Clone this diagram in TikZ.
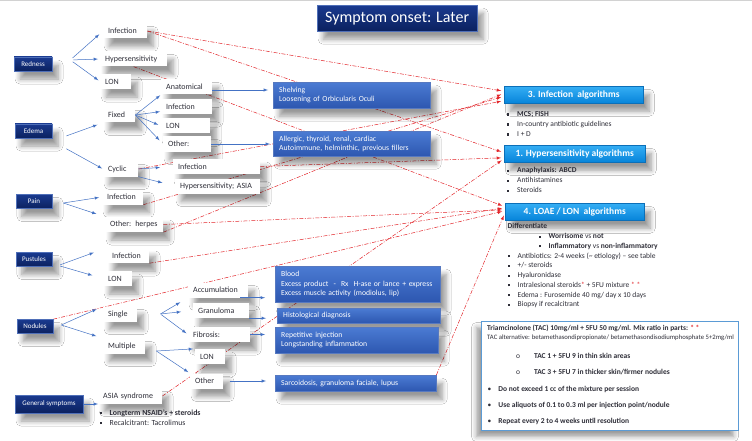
\documentclass[tikz,border=0pt]{standalone}
\usepackage{fontspec}
\setmainfont{Carlito}
\usetikzlibrary{shapes, arrows, positioning, calc, backgrounds, shadows.blur}

\definecolor{navytop}{HTML}{1A3A8F}
\definecolor{navybot}{HTML}{0B215F}
\definecolor{navyedge}{HTML}{4F6FB8}
\definecolor{infotop}{HTML}{4B7BD3}
\definecolor{infobot}{HTML}{2D57B0}
\definecolor{algtop}{HTML}{35AEF4}
\definecolor{algbot}{HTML}{0684DA}
\definecolor{algedge}{HTML}{0B6FB8}
\definecolor{ink}{HTML}{2E2E38}
\definecolor{linkblue}{HTML}{4472C4}
\definecolor{linkred}{HTML}{E3262B}
\definecolor{tacedge}{HTML}{5B9BD5}

\newcommand{\fsz}[2]{\fontsize{#1}{#2}\selectfont}
\newcommand{\sqb}{\makebox[10pt][l]{\rule[0.9pt]{2.2pt}{2.2pt}}}

\begin{document}
\begin{tikzpicture}[x=1pt, y=-1pt,
		softshadow/.style={blur shadow={shadow xshift=6pt, shadow yshift=-8pt, shadow blur radius=5pt, shadow opacity=40, shadow blur steps=6}},
		cat/.style={softshadow, draw=navyedge, line width=0.6pt, top color=navytop, bottom color=navybot, text=white, font=\fsz{7}{8}, minimum height=14pt, inner sep=1pt},
		leaf/.style={softshadow, fill=white, text=ink, font=\fsz{8}{9.6}, minimum height=15pt, inner xsep=5pt, inner ysep=0pt, anchor=west, align=left, text width=#1},
		leaf/.default=30pt,
		info/.style={softshadow, draw=infobot!80!white, top color=infotop, bottom color=infobot, text=white, font=\fsz{7.7}{9.5}, anchor=north west, align=left, inner xsep=6pt, inner ysep=0pt},
		alg/.style={softshadow, draw=algedge, line width=0.5pt, top color=algtop, bottom color=algbot, text=white, font=\bfseries\fsz{9.5}{11}, anchor=north west, minimum height=17pt, inner sep=0pt},
		blist/.style={text=ink, font=\fsz{7.5}{10}, anchor=north west, align=left, inner sep=0pt},
		tact/.style={text=ink, font=\fsz{7.5}{9}, anchor=west, inner sep=0pt},
		barrow/.style={-latex, draw=linkblue, line width=0.5pt},
		rarrow/.style={-latex, draw=linkred, line width=0.5pt, dash pattern=on 4pt off 1.5pt on 1pt off 1.5pt, shorten >=3pt}
	]
	\useasboundingbox (0,0) rectangle (752,441);
	\fill[gray!35] (0,0) rectangle (752,1.5);

	\node[softshadow, draw=navyedge, top color=navytop, bottom color=navybot, text=white, font=\fsz{16}{18}, anchor=north west, minimum width=160pt, minimum height=26pt] (title) at (317,5) {Symptom onset: Later};

	% symptoms
	\node[cat, minimum width=38pt] (redness) at (33,64) {Redness};
	\node[cat, minimum width=37pt] (edema) at (33.5,131) {Edema};
	\node[cat, minimum width=36pt] (pain) at (34,201.5) {Pain};
	\node[cat, minimum width=36pt] (pustules) at (34,259.5) {Pustules};
	\node[cat, minimum width=36pt] (nodules) at (35,326.5) {Nodules};
	\node[cat, minimum width=68pt, minimum height=18pt] (general) at (49,404) {General symptoms};

	\node[leaf=34pt] (rinf) at (103,31) {Infection};
	\node[leaf=57pt] (rhyp) at (100,59) {Hypersensitivity};
	\node[leaf=21pt] (rlon) at (100,81.5) {LON};
	\node[leaf=22pt] (efix) at (103,115) {Fixed};
	\node[leaf=41pt] (fana) at (161,87) {Anatomical};
	\node[leaf=41pt] (finf) at (161,106.5) {Infection};
	\node[leaf=39pt] (flon) at (161,126) {LON};
	\node[leaf=38pt] (foth) at (163,144) {Other:};
	\node[leaf=25pt] (ecyc) at (103,169) {Cyclic};
	\node[leaf=77pt] (cinf) at (173,166.5) {Infection};
	\node[leaf=75pt] (chyp) at (175,186) {Hypersensitivity; ASIA};
	\node[leaf=31pt] (pinf) at (102,197) {Infection};
	\node[leaf=48pt] (poth) at (105,224.5) {Other: herpes};
	\node[leaf=32pt] (uinf) at (107,255.5) {Infection};
	\node[leaf=19pt] (ulon) at (103,278.5) {LON};
	\node[leaf=24pt] (nsin) at (103,314) {Single};
	\node[leaf=32pt] (nmul) at (103,346) {Multiple};
	\node[leaf=50pt] (sacc) at (188,290) {Accumulation};
	\node[leaf=46pt] (sgra) at (193,310.5) {Granuloma};
	\node[leaf=52pt] (sfib) at (188,334.5) {Fibrosis:};
	\node[leaf=20pt] (mlon) at (195,356.5) {LON};
	\node[leaf=23pt] (moth) at (190,381) {Other};
	\node[leaf=54pt] (gasia) at (98,396) {ASIA syndrome};
	\node[blist, font=\fsz{7.8}{10}] (glist) at (99.5,409.2) {\sqb\textbf{Longterm NSAID’s + steroids}\\\sqb Recalcitrant: Tacrolimus};

	% causes
	\node[info, text width=145pt, minimum height=26pt] (shel) at (273,82) {Shelving\\Loosening of Orbicularis Oculi};
	\node[info, text width=145pt, minimum height=25pt] (allg) at (273,131) {Allergic, thyroid, renal, cardiac\\Autoimmune, helminthic, previous fillers};
	\node[info, text width=157pt, inner xsep=4pt, minimum height=36pt] (blood) at (275,266) {\hspace*{2pt}Blood\\\hspace*{2pt}\mbox{Excess product \ - \ Rx \ H-ase or lance + express}\\\hspace*{2pt}Excess muscle activity (modiolus, lip)};
	\node[info, text width=151pt, minimum height=15pt] (hist) at (277,308) {Histological diagnosis};
	\node[info, text width=151pt, minimum height=26pt] (rep) at (275,327) {Repetitive injection\\Longstanding inflammation};
	\node[info, text width=149pt, minimum height=16pt] (sarc) at (275,375) {Sarcoidosis, granuloma faciale, lupus};

	% algorithms
	\node[alg, minimum width=139pt] (alg3) at (504,86) {3. Infection \ algorithms};
	\node[blist] (l3) at (507,111.3) {\sqb\textbf{MCS; FISH}\\\sqb In-country antibiotic guidelines\\\sqb I + D};
	\node[alg, minimum width=141pt] (alg1) at (504,145) {1. Hypersensitivity algorithms};
	\node[blist] (l1) at (507,167.4) {\sqb\textbf{Anaphylaxis: ABCD}\\\sqb Antihistamines\\\sqb Steroids};
	\node[alg, minimum width=139pt] (alg4) at (505,203) {4. LOAE / LON \ algorithms};
	\node[blist, font=\fsz{7.5}{9.75}] (l4) at (507.5,223.4) {\textbf{Differentiate}\\
		\hspace*{31pt}\sqb\textbf{Worrisome} vs \textbf{not}\\
		\hspace*{31pt}\sqb\textbf{Inflammatory} vs \textbf{non-inflammatory}\\
		\sqb Antibiotics: 2-4 weeks (\textasciitilde{} etiology) – see table\\
		\sqb +/- steroids\\
		\sqb Hyaluronidase\\
		\sqb Intralesional steroids{\color{linkred}*} + 5FU mixture {\color{linkred}* *}\\
		\sqb Edema : Furosemide 40 mg/ day x 10 days\\
		\sqb Biopsy if recalcitrant};

	\node[draw=tacedge, line width=1pt, fill=white, anchor=north west, minimum width=257pt, minimum height=109pt, blur shadow={shadow xshift=-5pt, shadow yshift=-6pt, shadow blur radius=5pt, shadow opacity=40}] (tac) at (481,321) {};
	\node[tact, font=\bfseries\fsz{7.4}{9}] (tac1) at (487,328.5) {Triamcinolone (TAC) 10mg/ml + 5FU 50 mg/ml. Mix ratio in parts: {\color{linkred}* *}};
	\node[tact, font=\fsz{6.7}{7.5}] (tac2) at (487,337.5) {TAC alternative: betamethasondipropionate/ betamethasondisodiumphosphate 5+2mg/ml};
	\node[tact] (tac3) at (516,356) {o\hspace{14pt}\textbf{TAC 1 + 5FU 9 in thin skin areas}};
	\node[tact] (tac4) at (516,372) {o\hspace{14pt}\textbf{TAC 3 + 5FU 7 in thicker skin/firmer nodules}};
	\node[tact] (tac5) at (487.5,389) {•\hspace{7pt}\textbf{Do not exceed 1 cc of the mixture per session}};
	\node[tact] (tac6) at (487.5,405.5) {•\hspace{7pt}\textbf{Use aliquots of 0.1 to 0.3 ml per injection point/nodule}};
	\node[tact] (tac7) at (487.5,421) {•\hspace{7pt}\textbf{Repeat every 2 to 4 weeks until resolution}};

	% links to the algorithms
	\begin{scope}[on background layer]
		\fill[white] (0,0) rectangle (752,441);
		\draw[rarrow] (rinf.east) -- ([yshift=3.5pt]alg3.west);
		\draw[rarrow] (rinf.east) -- ([yshift=1pt]alg1.west);
		\draw[rarrow] (rhyp.south) -- ([yshift=5pt]alg4.west);
		\draw[rarrow] (ecyc.east) -- ([yshift=-6pt]alg3.west);
		\draw[rarrow] (pinf.south east) -- ([yshift=-1.5pt]alg3.west);
		\draw[rarrow] (poth.south east) -- ([yshift=1.5pt]alg3.west);
		\draw[rarrow] (cinf.east) -- ([yshift=-4pt]alg1.west);
		\draw[rarrow] (poth.east) -- ([yshift=2pt]alg4.west);
		\draw[rarrow] (uinf.south east) -- ([yshift=4pt]alg4.west);
		\draw[rarrow] (nodules.north east) -- ([yshift=1pt]alg4.west);
		\draw[rarrow] (gasia.east) -- ([yshift=-5pt]alg1.west);
		\draw[rarrow] (sarc.north east) -- ([yshift=-1pt]alg4.west);
	\end{scope}

	% tree arrows
	\coordinate (rfan) at ([xshift=18pt,yshift=4pt]redness.east);
	\draw[barrow, shorten <=3pt, shorten >=5pt] (rfan) -- (rinf.west);
	\draw[barrow, shorten <=3pt, shorten >=2pt] (rfan) -- (rhyp.west);
	\draw[barrow, shorten <=3pt, shorten >=2pt] (rfan) -- (rlon.west);

	\coordinate (efan) at ([yshift=-10pt]edema.east);
	\draw[barrow, shorten <=15pt, shorten >=6pt] (efan) -- (efix.south west);
	\draw[barrow, shorten <=16pt, shorten >=1pt] (efan) -- (ecyc.west);
	\draw[barrow, shorten >=1pt] (efix.east) -- (fana.south west);
	\draw[barrow, shorten >=1pt] (efix.east) -- ([yshift=-5pt]finf.west);
	\draw[barrow, shorten >=3pt] (efix.east) -- (flon.west);
	\draw[barrow, shorten >=5pt] (efix.east) -- (foth.west);
	\draw[barrow, shorten >=13pt] (ecyc.east) -- (cinf.west);
	\draw[barrow, shorten >=13pt] (ecyc.south east) -- (chyp.west);

	\coordinate (pfan) at ([xshift=11pt,yshift=-1.5pt]pain.east);
	\draw[barrow, shorten >=3pt] (pfan) -- (pinf.west);
	\draw[barrow, shorten >=9pt] (pfan) -- (poth.north west);

	\coordinate (ufan) at ([xshift=6pt,yshift=-6pt]pustules.east);
	\draw[barrow, shorten <=2pt, shorten >=14pt] (ufan) -- (uinf.north west);
	\draw[barrow, shorten <=2pt, shorten >=11pt] (ufan) -- (ulon.west);

	\coordinate (nfan) at ([xshift=8pt,yshift=1.5pt]nodules.east);
	\draw[barrow, shorten >=7pt] (nfan) -- (nsin.north west);
	\draw[barrow, shorten >=7pt] (nfan) -- (nmul.north west);

	\coordinate (sfan) at ([xshift=23pt]nsin.east);
	\draw[barrow, shorten >=9pt] (sfan) -- (sacc.south west);
	\draw[barrow, shorten >=12pt] (sfan) -- (sgra.west);
	\draw[barrow, shorten <=1pt, shorten >=2pt] (sfan) -- (sfib.west);

	\coordinate (mfan) at ([xshift=11pt,yshift=-5pt]nmul.east);
	\draw[barrow, shorten >=2pt] (mfan) -- (mlon.north west);
	\draw[barrow, shorten >=2pt] (mfan) -- (moth.north west);

	\draw[barrow] (general.east) -- (general.east -| gasia.west);

	\coordinate (anaout) at ([yshift=-3pt]fana.east);
	\draw[barrow, shorten >=5pt] (anaout) -- (anaout -| shel.west);
	\draw[barrow, shorten >=3pt] (foth.east) -- (foth.east -| allg.west);
	\draw[barrow, shorten <=-8pt, shorten >=10pt] (sacc.south east) -- (sacc.south east -| blood.west);
	\draw[barrow, shorten >=11pt] (sgra.south east) -- (sgra.south east -| hist.west);
	\draw[barrow, shorten >=10pt] (sfib.east) -- (sfib.east -| rep.west);
	\draw[barrow, shorten <=7pt, shorten >=9pt] (moth.east) -- (moth.east -| sarc.west);
\end{tikzpicture}
\end{document}
